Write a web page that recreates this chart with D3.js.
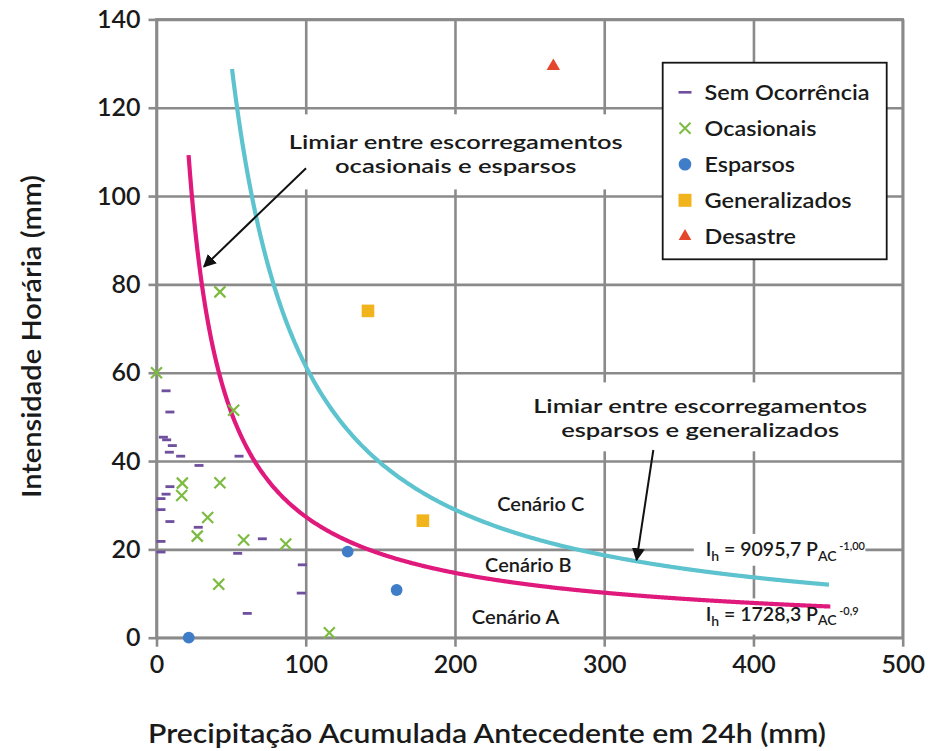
<!DOCTYPE html>
<html>
<head>
<meta charset="utf-8">
<script src="https://cdn.jsdelivr.net/npm/d3@7"></script>
<style>
  body { margin: 0; background: #fff; }
  svg { display: block; }
  text { font-family: Lato, "Open Sans", sans-serif; fill: #1a1a1a; }
</style>
</head>
<body>
<svg id="chart" width="928" height="751"></svg>
<script>
// ---- data ----
// Sem Ocorrência (P in mm, I in mm/h)
const semX = [6.4, 9.0, 4.6, 6.8, 10.6, 8.6, 16.2, 55.3, 28.5, 9.0, 6.4, 3.0, 3.0, 9.0, 28.0, 3.0, 3.0, 70.9, 54.4, 97.7, 97.0, 60.8];
const semY = [55.9, 51.1, 45.4, 44.8, 43.5, 42.0, 41.1, 41.1, 39.0, 34.2, 32.5, 31.5, 29.0, 26.3, 25.0, 21.8, 19.4, 22.4, 19.1, 16.5, 10.1, 5.5];
// Ocasionais
const ocaX = [0, 51.7, 17.3, 42.5, 16.9, 34.3, 27.3, 58.4, 86.6, 41.7, 42.5, 115.8];
const ocaY = [60, 51.5, 35.0, 35.1, 32.2, 27.2, 23.0, 22.1, 21.2, 12.1, 78.3, 1.1];
// Esparsos
const espX = [21.6, 128.1, 160.9];
const espY = [0, 19.5, 10.8];
// Generalizados
const genX = [141.7, 178.5];
const genY = [74.0, 26.5];
// Desastre
const desX = [265.9];
const desY = [129.4];

const xTicks = [0, 100, 200, 300, 400, 500];
const yTicks = [0, 20, 40, 60, 80, 100, 120, 140];

// threshold curves  I = a * P^b
const curveCoef = [1728.3, 9095.7];
const curveExp = [-0.9, -1.085];
const curveFrom = [21.5, 50.6];
const curveTo = [452, 451];

const legendLabels = ["Sem Ocorrência", "Ocasionais", "Esparsos", "Generalizados", "Desastre"];

// ---- layout ----
const W = 928, H = 751;
const M = { left: 156.5, right: 25.3, top: 19.4, bottom: 113.3 };
const iw = W - M.left - M.right, ih = H - M.top - M.bottom;

const colors = {
  sem: "#6f4f9e", oca: "#7dbb42", esp: "#3f7dc8", gen: "#f1b41c", des: "#e4472b",
  low: "#e0197d", high: "#5dc3ce", grid: "#8a8a8a"
};

const svg = d3.select("#chart");
const x = d3.scaleLinear().domain([0, 500]).range([M.left, W - M.right]);
const y = d3.scaleLinear().domain([0, 140]).range([H - M.bottom, M.top]);

// text helper: fixed width so the lettering keeps its wide set
function label(parent, tx, ty, str, size, width, anchor) {
  const t = parent.append("text")
    .attr("x", tx).attr("y", ty)
    .attr("text-anchor", anchor || "start")
    .attr("font-size", size).attr("font-weight", 600)
    .text(str);
  if (width) t.attr("textLength", width).attr("lengthAdjust", "spacingAndGlyphs");
  return t;
}

// grid
const grid = svg.append("g");
grid.append("g")
  .attr("transform", `translate(${M.left},0)`)
  .call(d3.axisLeft(y).tickValues(yTicks).tickSize(-iw).tickFormat(""))
  .call(g => g.select(".domain").remove());
grid.append("g")
  .attr("transform", `translate(0,${H - M.bottom})`)
  .call(d3.axisBottom(x).tickValues(xTicks).tickSize(-ih).tickFormat(""))
  .call(g => g.select(".domain").remove());
grid.selectAll("line").attr("stroke", colors.grid).attr("stroke-width", 2.6);

// frame
svg.append("rect")
  .attr("x", M.left).attr("y", M.top).attr("width", iw).attr("height", ih)
  .attr("fill", "none").attr("stroke", colors.grid).attr("stroke-width", 2.6);

// axes with outside ticks and labels
const yAxis = svg.append("g")
  .attr("transform", `translate(${M.left},0)`)
  .call(d3.axisLeft(y).tickValues(yTicks).tickSize(8).tickPadding(8));
const xAxis = svg.append("g")
  .attr("transform", `translate(0,${H - M.bottom})`)
  .call(d3.axisBottom(x).tickValues(xTicks).tickSize(9).tickPadding(9));
[yAxis, xAxis].forEach(a => {
  a.select(".domain").remove();
  a.selectAll("line").attr("stroke", colors.grid).attr("stroke-width", 2.6);
  a.selectAll("text").attr("font-size", 25).attr("font-weight", 600)
    .attr("fill", "#1a1a1a").style("font-family", "Lato, sans-serif");
});

// white boxes behind annotation text
function whiteBox(x0, y0, x1, y1) {
  svg.append("rect").attr("x", x(x0)).attr("y", y(y1))
    .attr("width", x(x1) - x(x0)).attr("height", y(y0) - y(y1))
    .attr("fill", "#fff");
}
whiteBox(82, 101.5, 318, 118.5);   // upper annotation
whiteBox(247, 42.2, 482, 57.8);    // lower annotation
whiteBox(360, 16.3, 475, 23.5);    // upper equation
whiteBox(361, 0.7, 474, 8.9);      // lower equation

// threshold curves
const line = d3.line().x(d => x(d[0])).y(d => y(d[1])).curve(d3.curveMonotoneX);
curveCoef.forEach((a, i) => {
  const pts = d3.range(curveFrom[i], curveTo[i] + 0.5, 1).map(p => [p, a * Math.pow(p, curveExp[i])]);
  svg.append("path").datum(pts)
    .attr("d", line)
    .attr("fill", "none")
    .attr("stroke", i === 0 ? colors.low : colors.high)
    .attr("stroke-width", 4.2)
    .attr("stroke-linecap", "butt");
});

// marker drawers
const mark = {
  sem: (g) => g.append("rect").attr("x", -4.5).attr("y", -1.4).attr("width", 9).attr("height", 2.8).attr("fill", colors.sem),
  oca: (g) => g.append("path").attr("d", "M-5.5,-5.5L5.5,5.5M-5.5,5.5L5.5,-5.5").attr("stroke", colors.oca).attr("stroke-width", 2.2).attr("fill", "none"),
  esp: (g) => g.append("circle").attr("r", 5.9).attr("fill", colors.esp),
  gen: (g) => g.append("rect").attr("x", -6.3).attr("y", -6.3).attr("width", 12.6).attr("height", 12.6).attr("fill", colors.gen),
  des: (g) => g.append("path").attr("d", d3.symbol(d3.symbolTriangle, 78)()).attr("fill", colors.des)
};

function drawSeries(xs, ys, key) {
  const g = svg.append("g");
  xs.forEach((v, i) => {
    const m = g.append("g").attr("transform", `translate(${x(v)},${y(ys[i])})`);
    mark[key](m);
  });
}
drawSeries(semX, semY, "sem");
drawSeries(ocaX, ocaY, "oca");
drawSeries(espX, espY, "esp");
drawSeries(genX, genY, "gen");
drawSeries(desX, desY, "des");

// legend
const lg = svg.append("g");
lg.append("rect").attr("x", 662.7).attr("y", 62.7).attr("width", 224).attr("height", 196.6)
  .attr("fill", "#fff").attr("stroke", "#151515").attr("stroke-width", 1.8);
const legendKeys = ["sem", "oca", "esp", "gen", "des"];
const legendWidths = [165, 112, 90.5, 147, 91.5];
legendKeys.forEach((k, i) => {
  const row = lg.append("g").attr("transform", `translate(685,${92.3 + 36 * i})`);
  if (k === "sem") row.append("rect").attr("x", -6.5).attr("y", -1.3).attr("width", 13).attr("height", 2.6).attr("fill", colors.sem);
  else if (k === "oca") row.append("path").attr("d", "M-5.5,-5.5L5.5,5.5M-5.5,5.5L5.5,-5.5").attr("stroke", colors.oca).attr("stroke-width", 2).attr("fill", "none");
  else if (k === "esp") row.append("circle").attr("r", 6.3).attr("fill", colors.esp);
  else if (k === "gen") row.append("rect").attr("x", -6.5).attr("y", -6.5).attr("width", 13).attr("height", 13).attr("fill", colors.gen);
  else row.append("path").attr("d", d3.symbol(d3.symbolTriangle, 70)()).attr("fill", colors.des);
  label(row, 19.5, 7.3, legendLabels[i], 21, legendWidths[i]);
});

// annotations (two lines each)
label(svg, x(200.5), y(110.6), "Limiar entre escorregamentos", 19.5, 334, "middle");
label(svg, x(200.5), y(110.6) + 24, "ocasionais e esparsos", 19.5, 241.5, "middle");
label(svg, x(364.3), y(50.8), "Limiar entre escorregamentos", 19.5, 334, "middle");
label(svg, x(364.3), y(50.8) + 23.5, "esparsos e generalizados", 19.5, 278, "middle");

svg.append("defs").append("marker")
  .attr("id", "head").attr("viewBox", "0 0 10 10").attr("refX", 9).attr("refY", 5)
  .attr("markerWidth", 13).attr("markerHeight", 13).attr("markerUnits", "userSpaceOnUse")
  .attr("orient", "auto")
  .append("path").attr("d", "M0,0L10,5L0,10z").attr("fill", "#111");

function arrow(x0, y0, x1, y1) {
  svg.append("line").attr("x1", x(x0)).attr("y1", y(y0)).attr("x2", x(x1)).attr("y2", y(y1))
    .attr("stroke", "#111").attr("stroke-width", 2).attr("marker-end", "url(#head)");
}
arrow(100.2, 106.3, 31.8, 84.0);
arrow(332.9, 42.5, 321.7, 17.6);

// scenario labels
const scen = [["Cenário C", 228.3, 28.8, 87], ["Cenário B", 220.2, 14.9, 86.5], ["Cenário A", 211.3, 3.1, 87.5]];
scen.forEach(s => label(svg, x(s[1]), y(s[2]), s[0], 19, s[3]));

// equations
function equation(px, py, coefText, expText) {
  const t = svg.append("text").attr("x", x(px)).attr("y", y(py)).attr("font-size", 19.5).attr("font-weight", 600);
  t.append("tspan").text("I");
  t.append("tspan").attr("font-size", 14).attr("dy", 5).text("h");
  t.append("tspan").attr("font-size", 19.5).attr("dy", -5).text(" = " + coefText + " P");
  t.append("tspan").attr("font-size", 14).attr("dy", 4.5).text("AC");
  t.append("tspan").attr("font-size", 11).attr("dx", 2.5).attr("dy", -10.5).text(expText);
}
equation(368, 18.4, "9095,7", "-1,00");
equation(368, 3.8, "1728,3", "-0,9");

// axis titles
label(svg, 487, 743, "Precipitação Acumulada Antecedente em 24h (mm)", 27, 678, "middle");
label(svg, 0, 0, "Intensidade Horária (mm)", 27, 323, "middle")
  .attr("transform", "translate(41,336.5) rotate(-90)");
</script>
</body>
</html>
